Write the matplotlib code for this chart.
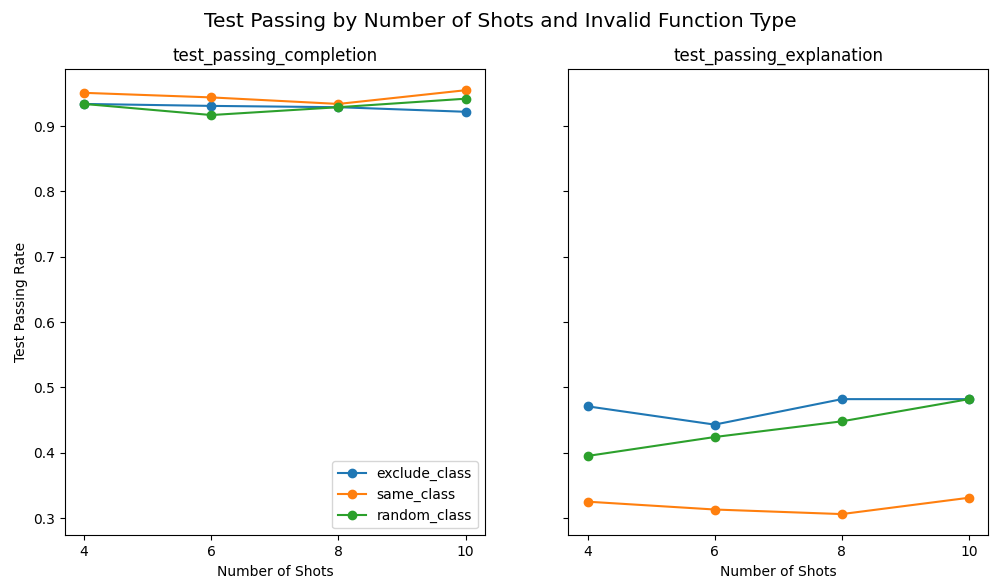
import matplotlib
matplotlib.use("Agg")
import matplotlib.pyplot as plt

shots = [4, 6, 8, 10]
series = ["exclude_class", "same_class", "random_class"]
completion = {
    "exclude_class": [0.934, 0.931, 0.929, 0.922],
    "same_class": [0.951, 0.944, 0.934, 0.955],
    "random_class": [0.934, 0.917, 0.929, 0.942],
}
explanation = {
    "exclude_class": [0.471, 0.443, 0.482, 0.482],
    "same_class": [0.325, 0.313, 0.306, 0.331],
    "random_class": [0.395, 0.424, 0.448, 0.482],
}

fig, axes = plt.subplots(1, 2, figsize=(10.01, 5.85), dpi=100, sharey=True)
for ax, data, title in zip(axes, [completion, explanation],
                           ["test_passing_completion", "test_passing_explanation"]):
    for s in series:
        ax.plot(shots, data[s], marker="o", label=s)
    ax.set_title(title)
    ax.set_xlabel("Number of Shots")
    ax.set_xticks(shots)
axes[0].set_ylabel("Test Passing Rate")
axes[0].legend(loc="lower right")
fig.suptitle("Test Passing by Number of Shots and Invalid Function Type", fontsize=14.5)
fig.subplots_adjust(left=0.065, right=0.987, bottom=0.085, top=0.882, wspace=0.2)
fig.savefig("out.png")
